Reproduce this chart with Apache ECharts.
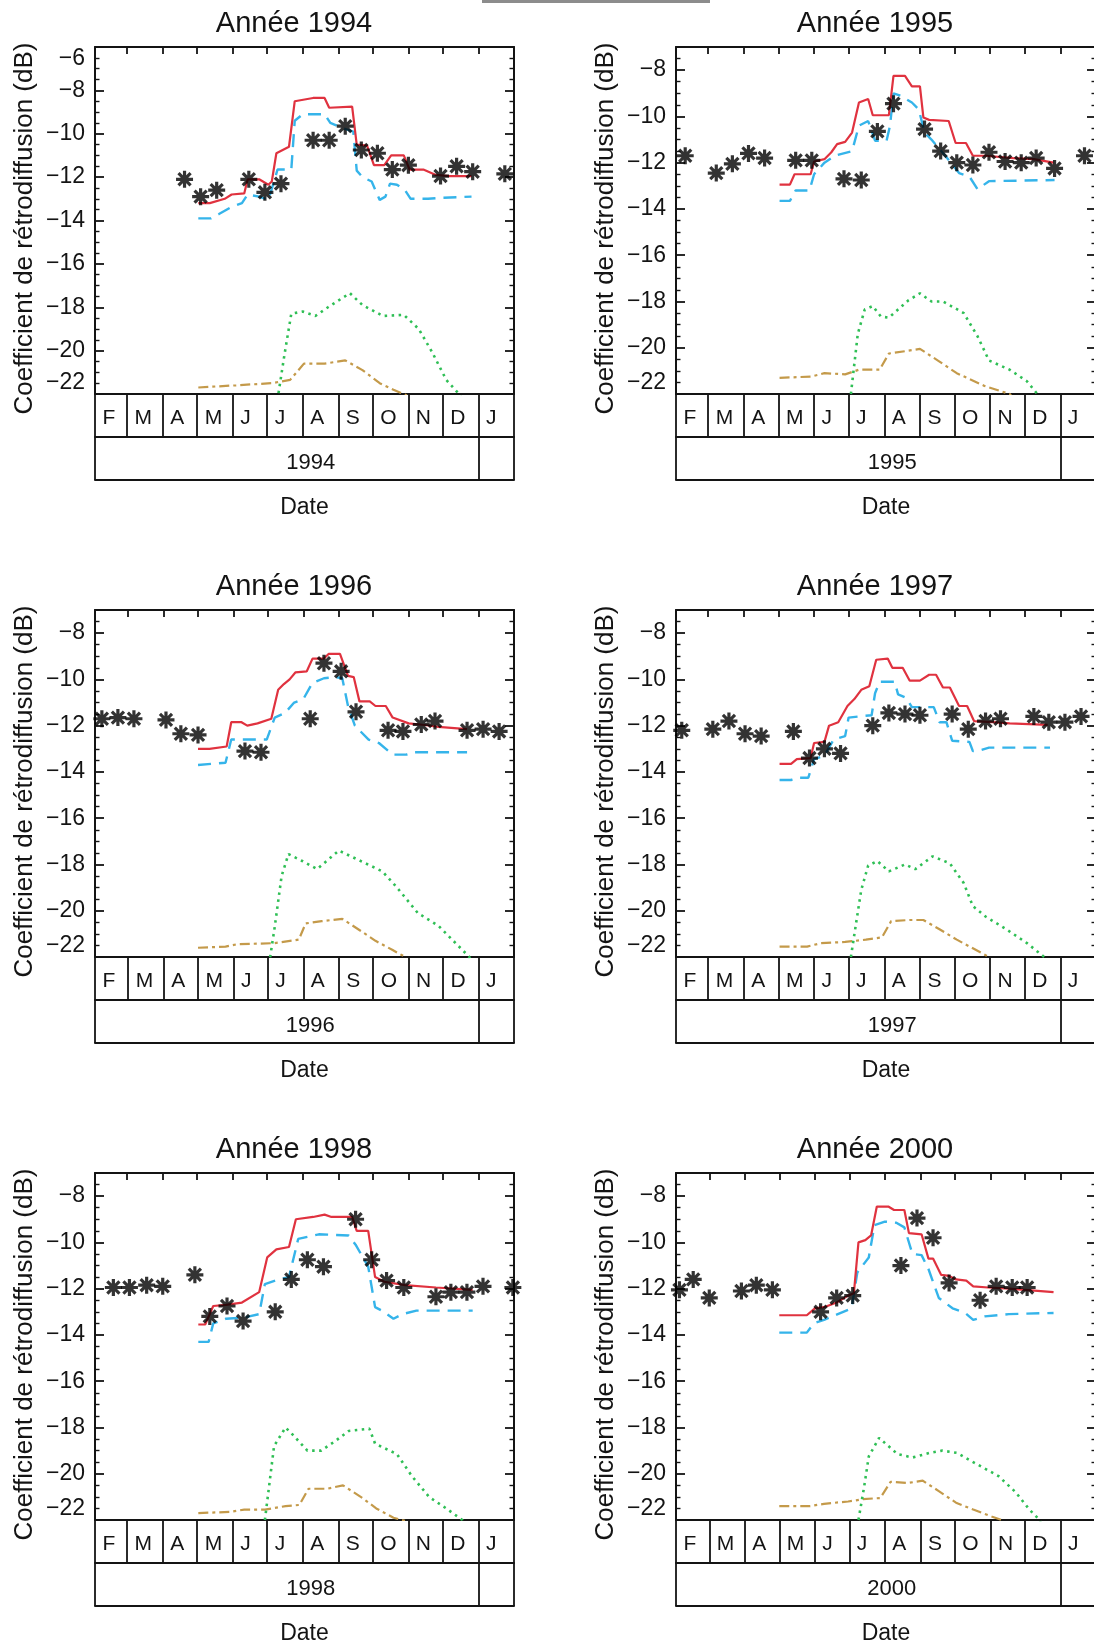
<!DOCTYPE html>
<html>
<head>
<meta charset="utf-8">
<script src="https://cdn.jsdelivr.net/npm/echarts@6/dist/echarts.min.js"></script>
<style>
html,body{margin:0;padding:0;background:#fff;}
#chart{width:1094px;height:1645px;}
</style>
</head>
<body>
<div id="chart"></div>
<script>
// ---------------- DATA (x = days since 1 February of the panel year, y = dB) ----------------
const YEARS = [1994, 1995, 1996, 1997, 1998, 2000];
const Y_MIN = -22;
const Y_MAX = [-6, -7, -7, -7, -7, -7];
const Y_INTERVAL = 2;
const MONTH_LETTERS = ['F','M','A','M','J','J','A','S','O','N','D','J'];
const YEAR_LABEL_DAY = 188;
const Y_TITLE = 'Coefficient de rétrodiffusion (dB)';
const X_TITLE = 'Date';

// observations (asterisks)
const obs1994 = [[78,-12.1],[92,-12.9],[106,-12.6],[134,-12.1],[148,-12.7],[162,-12.3],[190,-10.3],[204,-10.3],[218,-9.65],[232,-10.75],[246,-10.9],[259,-11.65],[273,-11.45],[301,-11.95],[315,-11.5],[329,-11.75],[357,-11.85]];
const obs1995 = [[8,-11.7],[35,-12.45],[49,-12.05],[63,-11.6],[77,-11.8],[104,-11.9],[118,-11.9],[146,-12.7],[161,-12.75],[175,-10.65],[189,-9.45],[216,-10.55],[230,-11.5],[244,-12.0],[258,-12.1],[272,-11.55],[286,-11.95],[300,-12.0],[313,-11.8],[329,-12.25],[355,-11.7]];
const obs1996 = [[6,-11.7],[20,-11.65],[34,-11.7],[62,-11.75],[75,-12.35],[90,-12.4],[131,-13.1],[145,-13.15],[188,-11.7],[200,-9.3],[215,-9.65],[228,-11.4],[256,-12.2],[269,-12.25],[285,-11.95],[297,-11.8],[325,-12.2],[339,-12.15],[353,-12.25]];
const obs1997 = [[5,-12.2],[32,-12.15],[46,-11.8],[60,-12.35],[74,-12.45],[102,-12.25],[116,-13.4],[129,-13.0],[143,-13.2],[171,-12.0],[185,-11.45],[199,-11.5],[212,-11.55],[240,-11.5],[254,-12.15],[269,-11.8],[282,-11.7],[311,-11.6],[324,-11.85],[338,-11.85],[352,-11.6]];
const obs1998 = [[16,-11.95],[30,-11.95],[45,-11.85],[59,-11.9],[87,-11.4],[100,-13.2],[115,-12.75],[129,-13.4],[157,-13.0],[171,-11.6],[185,-10.75],[199,-11.05],[227,-9.0],[241,-10.75],[254,-11.65],[269,-11.95],[297,-12.35],[310,-12.15],[324,-12.15],[338,-11.9],[364,-11.95]];
const obs2000 = [[3,-12.05],[15,-11.6],[29,-12.4],[57,-12.1],[70,-11.85],[84,-12.05],[126,-13.0],[140,-12.4],[154,-12.3],[196,-11.0],[210,-8.95],[224,-9.8],[238,-11.75],[265,-12.5],[279,-11.9],[293,-11.95],[306,-11.95]];

// red solid line
const red1994 = [[90,-13.2],[100,-13.2],[113,-13.0],[119,-12.8],[130,-12.75],[133,-12.1],[143,-12.1],[151,-12.35],[154,-12.2],[158,-10.9],[169,-10.6],[174,-8.5],[190,-8.35],[200,-8.35],[204,-8.8],[224,-8.75],[228,-10.5],[237,-10.55],[243,-11.45],[252,-11.45],[258,-11.0],[269,-11.0],[274,-11.65],[286,-11.65],[297,-11.9],[309,-11.95],[328,-11.95]];
const red1995 = [[90,-12.95],[99,-12.95],[103,-12.5],[117,-12.5],[120,-11.95],[129,-11.85],[135,-11.55],[140,-11.2],[147,-11.1],[153,-10.7],[159,-9.4],[167,-9.25],[171,-9.95],[185,-9.95],[189,-8.25],[199,-8.25],[205,-8.7],[212,-8.7],[215,-10.05],[220,-10.15],[237,-10.2],[243,-11.15],[252,-11.15],[258,-11.7],[269,-11.7],[293,-11.8],[311,-11.85],[328,-12.0]];
const red1996 = [[90,-13.0],[100,-13.0],[115,-12.9],[119,-11.85],[128,-11.85],[133,-12.0],[142,-11.9],[154,-11.7],[160,-10.45],[165,-10.2],[170,-10.0],[175,-9.7],[185,-9.65],[190,-9.1],[200,-9.1],[204,-8.9],[214,-8.9],[221,-9.85],[226,-9.9],[231,-10.95],[240,-10.95],[245,-11.15],[254,-11.15],[260,-11.65],[274,-11.9],[288,-11.97],[300,-12.05],[325,-12.15]];
const red1997 = [[90,-13.65],[100,-13.65],[105,-13.45],[117,-13.4],[120,-12.75],[129,-12.7],[133,-12.0],[141,-11.85],[149,-11.15],[155,-10.85],[161,-10.45],[168,-10.3],[174,-9.15],[184,-9.1],[188,-9.5],[197,-9.5],[203,-10.05],[212,-10.05],[220,-9.8],[226,-9.8],[232,-10.35],[238,-10.35],[246,-11.15],[253,-11.15],[259,-11.8],[275,-11.85],[290,-11.9],[323,-11.97]];
const red1998 = [[90,-13.55],[96,-13.55],[103,-12.75],[114,-12.7],[128,-12.6],[143,-12.15],[150,-10.65],[158,-10.3],[169,-10.2],[175,-9.0],[190,-8.9],[200,-8.8],[206,-8.9],[224,-8.9],[228,-9.5],[238,-9.5],[244,-11.5],[252,-11.7],[270,-11.85],[297,-11.95],[329,-12.05]];
const red2000 = [[90,-13.15],[114,-13.15],[121,-12.85],[129,-12.8],[140,-12.6],[150,-12.3],[155,-12.2],[159,-10.0],[165,-9.9],[170,-9.7],[175,-8.45],[185,-8.45],[190,-8.6],[199,-8.6],[203,-9.6],[214,-9.65],[220,-10.7],[224,-10.7],[231,-11.4],[238,-11.45],[244,-11.6],[253,-11.65],[259,-11.9],[272,-11.95],[290,-12.0],[329,-12.15]];

// blue dashed line
const blue1994 = [[90,-13.9],[101,-13.9],[108,-13.7],[118,-13.4],[128,-13.2],[133,-12.8],[143,-12.9],[151,-13.05],[156,-12.2],[159,-11.65],[171,-11.65],[174,-9.4],[181,-9.1],[200,-9.1],[205,-9.5],[216,-9.75],[225,-9.9],[228,-11.7],[233,-12.0],[241,-12.2],[248,-13.05],[253,-12.9],[257,-12.3],[263,-12.35],[270,-12.6],[275,-13.0],[290,-13.0],[303,-12.95],[328,-12.9]];
const blue1995 = [[90,-13.65],[99,-13.65],[104,-13.2],[116,-13.2],[120,-12.5],[129,-12.0],[138,-11.7],[153,-11.5],[159,-10.4],[167,-10.2],[173,-11.05],[183,-11.05],[186,-10.4],[189,-9.0],[195,-9.1],[205,-9.4],[211,-9.7],[216,-10.7],[222,-11.0],[234,-11.7],[246,-12.45],[255,-12.6],[262,-13.15],[272,-12.8],[329,-12.75]];
const blue1996 = [[90,-13.7],[114,-13.6],[119,-12.6],[150,-12.6],[157,-11.65],[166,-11.45],[174,-11.0],[182,-10.85],[190,-10.15],[200,-9.95],[210,-9.9],[216,-9.95],[221,-11.15],[227,-12.0],[239,-12.6],[248,-12.75],[260,-13.25],[272,-13.25],[278,-13.15],[325,-13.15]];
const blue1997 = [[90,-14.35],[100,-14.35],[105,-14.25],[115,-14.25],[120,-13.45],[129,-13.3],[137,-12.6],[147,-12.45],[150,-11.65],[159,-11.6],[170,-11.55],[173,-10.6],[177,-10.1],[190,-10.1],[193,-10.65],[200,-10.8],[205,-11.2],[224,-11.2],[229,-11.85],[235,-11.85],[240,-12.65],[255,-12.7],[258,-13.1],[262,-13.1],[272,-12.95],[325,-12.95]];
const blue1998 = [[90,-14.3],[99,-14.3],[103,-13.5],[114,-13.3],[130,-13.25],[143,-13.1],[148,-11.8],[160,-11.6],[169,-11.5],[177,-9.85],[195,-9.65],[221,-9.7],[227,-10.1],[238,-11.05],[244,-12.8],[250,-12.95],[260,-13.3],[268,-13.1],[280,-12.95],[329,-12.95]];
const blue2000 = [[90,-13.9],[114,-13.9],[120,-13.5],[129,-13.35],[141,-13.1],[153,-12.85],[158,-11.3],[168,-10.65],[173,-9.25],[182,-9.1],[192,-9.15],[199,-9.35],[206,-10.5],[214,-10.55],[220,-11.15],[229,-12.4],[241,-12.85],[252,-13.05],[259,-13.35],[269,-13.2],[290,-13.1],[329,-13.05]];

// green dotted line
const green1994 = [[158,-22.6],[165,-20.2],[171,-18.3],[181,-18.2],[192,-18.4],[203,-18.0],[222,-17.35],[233,-17.9],[251,-18.4],[269,-18.35],[282,-19.0],[294,-20.1],[306,-21.35],[318,-22.05],[322,-22.5]];
const green1995 = [[150,-22.6],[152,-22.0],[158,-19.4],[164,-18.35],[171,-18.2],[178,-18.65],[185,-18.7],[202,-17.95],[212,-17.65],[222,-18.0],[232,-18.0],[250,-18.5],[262,-19.5],[272,-20.55],[290,-20.95],[305,-21.45],[314,-22.0],[318,-22.5]];
const green1996 = [[150,-22.6],[153,-22.0],[157,-20.7],[163,-18.5],[169,-17.55],[181,-17.85],[194,-18.2],[213,-17.4],[230,-17.8],[251,-18.3],[263,-18.95],[282,-20.1],[300,-20.65],[312,-21.25],[327,-22.0],[330,-22.5]];
const green1997 = [[150,-22.6],[152,-22.0],[156,-20.7],[161,-19.1],[167,-18.05],[175,-17.85],[185,-18.3],[199,-18.0],[208,-18.2],[223,-17.65],[238,-17.95],[250,-18.8],[258,-19.8],[269,-20.25],[287,-20.8],[305,-21.4],[320,-22.0],[323,-22.5]];
const green1998 = [[146,-22.6],[148,-22.0],[156,-18.8],[166,-18.0],[172,-18.3],[185,-19.0],[197,-19.0],[209,-18.6],[221,-18.15],[239,-18.05],[244,-18.7],[263,-19.15],[276,-20.1],[291,-21.0],[306,-21.5],[320,-22.0],[323,-22.5]];
const green2000 = [[158,-22.6],[159,-22.0],[164,-20.55],[168,-19.25],[177,-18.45],[185,-18.8],[193,-19.15],[206,-19.3],[221,-19.1],[232,-19.0],[245,-19.1],[259,-19.5],[281,-20.1],[296,-20.8],[308,-21.55],[317,-22.0],[320,-22.5]];

// brown dash-dot line
const brown1994 = [[90,-21.7],[123,-21.6],[154,-21.5],[170,-21.35],[182,-20.6],[200,-20.6],[218,-20.45],[233,-20.9],[248,-21.5],[260,-21.8],[271,-22.05],[275,-22.3]];
const brown1995 = [[90,-21.3],[117,-21.25],[129,-21.1],[147,-21.15],[159,-20.95],[177,-20.95],[185,-20.25],[199,-20.15],[212,-20.05],[229,-20.6],[244,-21.1],[268,-21.65],[290,-22.0],[295,-22.3]];
const brown1996 = [[90,-21.6],[114,-21.55],[124,-21.45],[157,-21.4],[178,-21.25],[184,-20.55],[198,-20.45],[216,-20.35],[233,-20.9],[245,-21.3],[260,-21.7],[271,-22.0],[274,-22.3]];
const brown1997 = [[90,-21.55],[114,-21.55],[126,-21.4],[147,-21.35],[165,-21.25],[179,-21.15],[187,-20.45],[203,-20.4],[215,-20.4],[229,-20.8],[244,-21.25],[272,-22.0],[276,-22.4]];
const brown1998 = [[90,-21.7],[117,-21.65],[130,-21.55],[148,-21.55],[166,-21.4],[178,-21.35],[186,-20.65],[202,-20.65],[216,-20.5],[233,-21.05],[245,-21.5],[260,-21.9],[271,-22.05],[274,-22.4]];
const brown2000 = [[90,-21.4],[117,-21.4],[129,-21.3],[150,-21.2],[163,-21.1],[178,-21.05],[187,-20.35],[202,-20.4],[215,-20.3],[229,-20.75],[244,-21.25],[259,-21.55],[275,-21.85],[284,-22.0],[288,-22.3]];

const OBS   = {1994: obs1994, 1995: obs1995, 1996: obs1996, 1997: obs1997, 1998: obs1998, 2000: obs2000};
const RED   = {1994: red1994, 1995: red1995, 1996: red1996, 1997: red1997, 1998: red1998, 2000: red2000};
const BLUE  = {1994: blue1994, 1995: blue1995, 1996: blue1996, 1997: blue1997, 1998: blue1998, 2000: blue2000};
const GREEN = {1994: green1994, 1995: green1995, 1996: green1996, 1997: green1997, 1998: green1998, 2000: green2000};
const BROWN = {1994: brown1994, 1995: brown1995, 1996: brown1996, 1997: brown1997, 1998: brown1998, 2000: brown2000};

// ---------------- LAYOUT / STYLE ----------------
const PANEL_LEFT = [95, 676, 95, 676, 95, 676];
const PANEL_TOP  = [47, 47, 610, 610, 1173, 1173];
const PANEL_W    = [419, 420, 419, 420, 419, 420];
const PLOT_H = 347, ROW_H = 43;
const INK = '#141414';
const FONT = '"Liberation Sans", Arial, Helvetica, sans-serif';
const ASTERISK = 'path://M8,0L8,16M0,8L16,8M2.3,2.3L13.7,13.7M13.7,2.3L2.3,13.7';
const DAY = 864e5;

const grid = [], xAxis = [], yAxis = [], series = [], graphic = [];

graphic.push({type: 'rect', shape: {x: 482, y: 0, width: 228, height: 3}, style: {fill: '#8c8c8c'}, silent: true});

YEARS.forEach((yr, i) => {
  const left = PANEL_LEFT[i], top = PANEL_TOP[i];
  grid.push({left: left, top: top, width: PANEL_W[i], height: PLOT_H, containLabel: false, outerBoundsMode: 'none'});

  const N = (Date.UTC(yr + 1, 1, 1) - Date.UTC(yr, 1, 1)) / DAY;
  const bounds = [];
  for (let m = 1; m <= 13; m++) bounds.push((Date.UTC(yr, m, 1) - Date.UTC(yr, 1, 1)) / DAY);
  const labelPos = bounds.slice(0, 12).map(b => b + 6.5);
  const lineS = {color: INK, width: 2};
  const tickS = {color: INK, width: 1.8};

  const xMain = xAxis.length;
  // plot bottom + month row
  xAxis.push({gridIndex: i, type: 'value', min: 0, max: N, position: 'bottom', splitLine: {show: false},
    axisLine: {show: true, onZero: false, lineStyle: lineS},
    axisTick: {show: true, customValues: bounds, length: ROW_H, inside: false, lineStyle: tickS},
    axisLabel: {show: true, customValues: labelPos, align: 'left', margin: 14, fontSize: 21, color: INK, fontFamily: FONT,
      formatter: v => {
        let best = 0, d = Infinity;
        labelPos.forEach((p, k) => { if (Math.abs(p - v) < d) { d = Math.abs(p - v); best = k; } });
        return MONTH_LETTERS[best];
      }}
  });
  // year row
  xAxis.push({gridIndex: i, type: 'value', min: 0, max: N, position: 'bottom', offset: ROW_H, splitLine: {show: false},
    axisLine: {show: true, onZero: false, lineStyle: lineS},
    axisTick: {show: true, customValues: [0, bounds[11], N], length: ROW_H, inside: false, lineStyle: tickS},
    axisLabel: {show: true, customValues: [YEAR_LABEL_DAY], margin: 15, fontSize: 22, color: INK, fontFamily: FONT,
      formatter: () => String(yr)}
  });
  // bottom frame line + axis title
  xAxis.push({gridIndex: i, type: 'value', min: 0, max: N, position: 'bottom', offset: 2 * ROW_H, splitLine: {show: false},
    axisLine: {show: true, onZero: false, lineStyle: lineS},
    axisTick: {show: false}, axisLabel: {show: false},
    name: X_TITLE, nameLocation: 'middle', nameGap: 16,
    nameTextStyle: {fontSize: 23, color: INK, fontFamily: FONT}
  });
  // top frame with inward month ticks
  xAxis.push({gridIndex: i, type: 'value', min: 0, max: N, position: 'top', splitLine: {show: false},
    axisLine: {show: true, onZero: false, lineStyle: lineS},
    axisTick: {show: true, customValues: bounds.slice(1, 12), inside: true, length: 7, lineStyle: tickS},
    axisLabel: {show: false}
  });

  const yMain = yAxis.length;
  const yCommon = {gridIndex: i, type: 'value', min: Y_MIN, max: Y_MAX[i], interval: Y_INTERVAL, splitLine: {show: false},
    axisLine: {show: true, onZero: false, lineStyle: lineS},
    axisTick: {show: true, inside: true, length: 9, lineStyle: tickS},
    minorTick: {show: true, splitNumber: 4, length: 4.5, lineStyle: {color: INK, width: 1.4}}
  };
  yAxis.push(Object.assign({}, yCommon, {position: 'left',
    axisLabel: {show: true, fontSize: 23, margin: 10, color: INK, fontFamily: FONT,
      showMinLabel: true, showMaxLabel: (Y_MAX[i] % Y_INTERVAL === 0),
      verticalAlignMinLabel: 'bottom', verticalAlignMaxLabel: 'top',
      formatter: v => (v < 0 ? '\u2212' + (-v) : String(v))},
    name: Y_TITLE, nameLocation: 'middle', nameGap: 57,
    nameTextStyle: {fontSize: 26, color: INK, fontFamily: FONT, padding: [0, 16, 0, 0]}
  }));
  yAxis.push(Object.assign({}, yCommon, {position: 'right', axisLabel: {show: false}}));

  graphic.push({type: 'text', x: left + 199, y: top - 23, silent: true,
    style: {text: 'Année ' + yr, fill: INK, font: '29px ' + FONT, align: 'center', verticalAlign: 'middle'}});

  const base = {xAxisIndex: xMain, yAxisIndex: yMain, showSymbol: false, symbol: 'none', clip: true, silent: true};
  series.push(Object.assign({}, base, {type: 'line', name: 'Composante 2 ' + yr, data: BROWN[yr], z: 2,
    lineStyle: {color: '#c49a4a', width: 2.2, type: [10, 4, 3, 4]}}));
  series.push(Object.assign({}, base, {type: 'line', name: 'Composante 1 ' + yr, data: GREEN[yr], z: 2,
    lineStyle: {color: '#2fbf55', width: 2.6, type: [2.5, 4.5]}}));
  series.push(Object.assign({}, base, {type: 'line', name: 'Simulation 2 ' + yr, data: BLUE[yr], z: 2,
    lineStyle: {color: '#35b4ea', width: 2.4, type: [13, 8]}}));
  series.push(Object.assign({}, base, {type: 'line', name: 'Simulation 1 ' + yr, data: RED[yr], z: 3,
    lineStyle: {color: '#e0323f', width: 2.2, type: 'solid'}}));
  series.push({type: 'scatter', name: 'Observations ' + yr, xAxisIndex: xMain, yAxisIndex: yMain, data: OBS[yr],
    symbol: ASTERISK, symbolSize: 17, z: 4, silent: true,
    itemStyle: {color: '#000', borderColor: '#000', borderWidth: 3.2}});
});

const chart = echarts.init(document.getElementById('chart'), null, {renderer: 'canvas'});
chart.setOption({
  animation: false,
  backgroundColor: '#ffffff',
  textStyle: {fontFamily: FONT},
  grid: grid, xAxis: xAxis, yAxis: yAxis, series: series, graphic: graphic
});
</script>
</body>
</html>
